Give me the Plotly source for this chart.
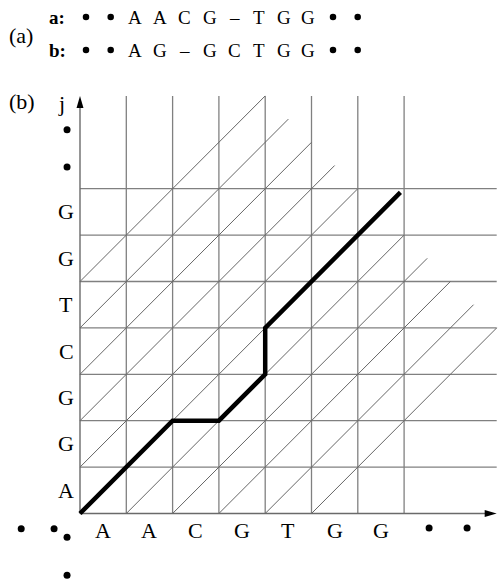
import plotly.graph_objects as go

# ---------------- data ----------------
SEQ_X = ["A", "A", "C", "G", "T", "G", "G"]          # sequence a along i
SEQ_Y = ["A", "G", "G", "C", "T", "G", "G"]          # sequence b along j
ROW_A = ["•", "•", "A", "A", "C", "G", "–", "T", "G", "G", "•", "•"]
ROW_B = ["•", "•", "A", "G", "–", "G", "C", "T", "G", "G", "•", "•"]
GRID_LINES = [1, 2, 3, 4, 5, 6, 7]                   # interior grid lines
GRID_MAX = 9                                         # extent of grid / axes
DIAG_OFFSETS = [-5, -4, -3, -2, -1, 0, 1, 2, 3, 4, 5]  # j = i + c
DIAG_END_SUM = 13                                    # diagonals end on i + j = 13
PATH_I = [0, 2, 3, 4, 4, 6.92]
PATH_J = [0, 2, 2, 3, 4, 6.92]

# ---------------- geometry ----------------
W, H = 500, 583
X0, Y0 = 80.0, 513.5
UX, UY = 46.3, 46.4
FONT = "Liberation Serif, Times New Roman, serif"
GRID_COL = "#808080"


def px(x):
    return (x - X0) / UX


def py(y):
    return (Y0 - y) / UY


fig = go.Figure()

# grid lines
gx, gy = [], []
for i in GRID_LINES:
    gx += [i, i, None]
    gy += [0, GRID_MAX, None]
for j in GRID_LINES:
    gx += [0, GRID_MAX, None]
    gy += [j, j, None]
fig.add_trace(go.Scatter(x=gx, y=gy, mode="lines",
                         line=dict(color=GRID_COL, width=1.3), hoverinfo="skip"))

# diagonals
dx, dy = [], []
for c in DIAG_OFFSETS:
    sx, sy = max(0, -c), max(0, c)
    ex, ey = (DIAG_END_SUM - c) / 2, (DIAG_END_SUM + c) / 2
    dx += [sx, ex, None]
    dy += [sy, ey, None]
fig.add_trace(go.Scatter(x=dx, y=dy, mode="lines",
                         line=dict(color="#666666", width=1), hoverinfo="skip"))

# axes
fig.add_trace(go.Scatter(x=[0, GRID_MAX - 0.1, None, 0, 0], y=[0, 0, None, 0, GRID_MAX - 0.1],
                         mode="lines", line=dict(color="#6a6a6a", width=1.4), hoverinfo="skip"))

# alignment path
fig.add_trace(go.Scatter(x=PATH_I, y=PATH_J, mode="lines",
                         line=dict(color="black", width=4.5), hoverinfo="skip"))

# dots (ellipses) beyond sequences
dot_x = [GRID_LINES[-1] + 0.54, GRID_LINES[-1] + 1.36, -1.27, -0.56, -0.28, -0.28, -0.28, -0.28]
dot_y = [-0.31, -0.31, -0.33, -0.33, -0.51, -1.33, 7.47, 8.27]
fig.add_trace(go.Scatter(x=dot_x, y=dot_y, mode="markers",
                         marker=dict(color="black", size=7), hoverinfo="skip"))

ann = []


def text(x, y, t, size=20, bold=False):
    ann.append(dict(x=x, y=y, xref="x", yref="y", text=f"<b>{t}</b>" if bold else t,
                    showarrow=False, xanchor="center", yanchor="middle",
                    font=dict(family=FONT, size=size, color="black")))


# top alignment rows (bullets drawn as markers, letters as text)
step = 24.7
tx, ty = [], []
for k, (a, b) in enumerate(zip(ROW_A, ROW_B)):
    xx = px(86 + k * step)
    for ch, yy in ((a, py(17)), (b, py(50))):
        if ch == "•":
            tx.append(xx)
            ty.append(yy)
        else:
            text(xx, yy, ch, size=19)
fig.add_trace(go.Scatter(x=tx, y=ty, mode="markers",
                         marker=dict(color="black", size=6.5), hoverinfo="skip"))

# arrow heads
L, Wd = 0.26, 0.075
shapes = [
    dict(type="path", xref="x", yref="y",
         path=f"M {GRID_MAX},0 L {GRID_MAX - L},{Wd} L {GRID_MAX - L},{-Wd} Z",
         fillcolor="black", line=dict(width=0)),
    dict(type="path", xref="x", yref="y",
         path=f"M 0,{GRID_MAX} L {Wd * UY / UX},{GRID_MAX - L} L {-Wd * UY / UX},{GRID_MAX - L} Z",
         fillcolor="black", line=dict(width=0)),
]

# axis letters
for k, s in enumerate(SEQ_X):
    text(k + 0.5, py(530), s, size=22)
for k, s in enumerate(SEQ_Y):
    text(px(66), k + 0.5, s, size=22)
text(px(61), py(103), "j", size=22)

# panel labels
text(px(21), py(35), "(a)", size=22)
text(px(22), py(101), "(b)", size=22)
text(px(57), py(17), "a:", size=19, bold=True)
text(px(57), py(50), "b:", size=19, bold=True)

fig.update_layout(
    width=W, height=H, margin=dict(l=0, r=0, t=0, b=0),
    paper_bgcolor="white", plot_bgcolor="white", showlegend=False,
    xaxis=dict(range=[px(0), px(W)], visible=False, fixedrange=True),
    yaxis=dict(range=[py(H), py(0)], visible=False, fixedrange=True),
    shapes=shapes, annotations=ann,
)

fig.write_html("out.html", config={"displayModeBar": False},
               post_script="document.body.style.margin='0';document.body.style.overflow='hidden';")
